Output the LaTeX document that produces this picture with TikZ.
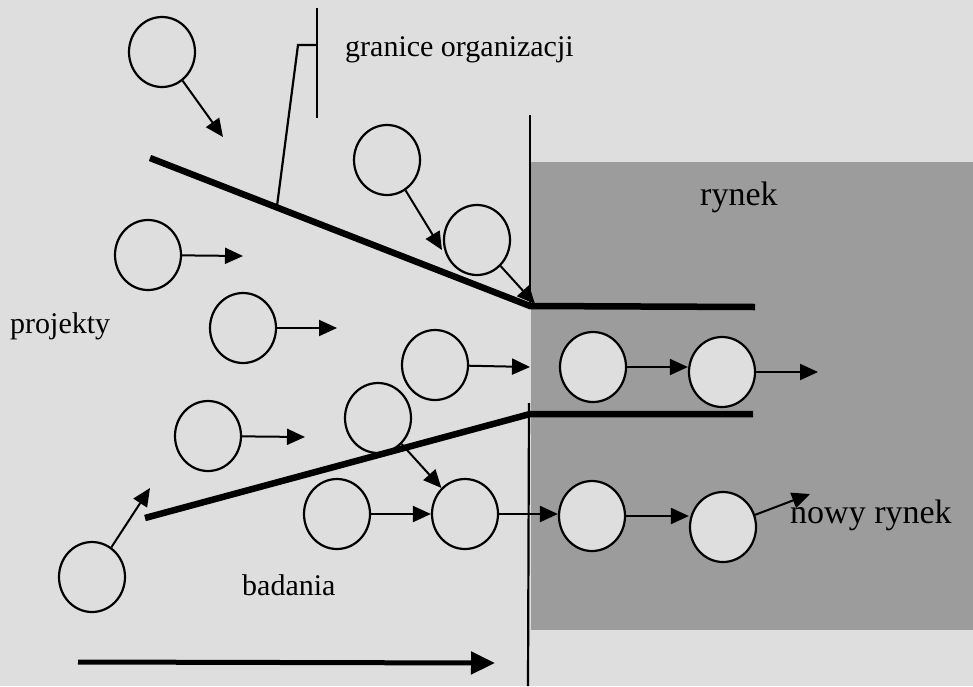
\documentclass[tikz,border=0pt]{standalone}
\usepackage{fontspec}
\setmainfont{Liberation Serif}
\usetikzlibrary{arrows.meta,shapes.geometric}
\definecolor{bgc}{HTML}{DEDEDE}
\definecolor{mkt}{HTML}{9C9C9C}
\begin{document}
\begin{tikzpicture}[x=1pt,y=-1pt,
  bub/.style={ellipse,draw=black,line width=2.2pt,fill=bgc,minimum width=66pt,minimum height=70pt,inner sep=0pt},
  arr/.style={line width=2pt,-{Triangle[length=18pt,width=16pt]}},
  wall/.style={line width=6.5pt},
  thinline/.style={line width=2.2pt},
  lbl/.style={font=\fontsize{30}{36}\selectfont,inner sep=0pt,anchor=base west},
  biglbl/.style={font=\fontsize{34}{40}\selectfont,inner sep=0pt,anchor=base west}]
\useasboundingbox (0,0) rectangle (973,686);
\fill[bgc] (0,0) rectangle (973,686);
\fill[mkt] (531,162) rectangle (973,630);

% wall coordinates
\coordinate (wt0) at (150,158);
\coordinate (wj) at (530,306);
\coordinate (wt1) at (755,307);
\coordinate (wb0) at (145,518);
\coordinate (wbj) at (530,414);
\coordinate (wb1) at (753,414);
\coordinate (vt) at (530,115);
\coordinate (vb0) at (529,403);
\coordinate (vb1) at (528,686);
\coordinate (bk0) at (317,8);
\coordinate (bk1) at (317,118);
\coordinate (bk2) at (317,45);
\coordinate (bk3) at (298,45);
\coordinate (bk4) at (277,206);

% bubbles
\node[bub] (c1) at (162,52) {};
\node[bub] (c2) at (148,255) {};
\node[bub] (c3) at (243,328) {};
\node[bub] (c4) at (387,160) {};
\node[bub] (c5) at (477,240) {};
\node[bub] (c6) at (435,365) {};
\node[bub] (c7) at (593,367) {};
\node[bub] (c8) at (722,372) {};
\node[bub] (c9) at (208,436) {};
\node[bub] (c10) at (378,418) {};
\node[bub] (c11) at (337,514) {};
\node[bub] (c12) at (465,514) {};
\node[bub] (c13) at (592,516) {};
\node[bub] (c14) at (723,527) {};
\node[bub] (c15) at (92,577) {};

% walls and boundaries
\draw[wall] (wt0) -- (wj) -- (wt1);
\draw[wall] (wb0) -- (wbj) -- (wb1);
\draw[thinline] (vt) -- (wj);
\draw[thinline] (vb0) -- (vb1);
\draw[thinline] (bk0) -- (bk1);
\draw[thinline] (bk2) -- (bk3) -- (bk4);

% free arrow ends
\coordinate (t1) at (223,137);
\coordinate (t2) at (243,256);
\coordinate (t3) at (337,328);
\coordinate (t4) at (442,250);
\coordinate (t5) at (535,304);
\coordinate (t6) at (530,367);
\coordinate (t8) at (818,372);
\coordinate (t9) at (305,437);
\coordinate (t14) at (810,494);
\coordinate (t15) at (150,488);
\coordinate (ba0) at (78,662);
\coordinate (ba1) at (495,663);

\draw[arr] (c1) -- (t1);
\draw[arr] (c2) -- (t2);
\draw[arr] (c3) -- (t3);
\draw[arr] (c4) -- (t4);
\draw[arr] (c5) -- (t5);
\draw[arr] (c6) -- (t6);
\draw[arr] (c7.east) -- (c7.east -| c8.west);
\draw[arr] (c8) -- (t8);
\draw[arr] (c9) -- (t9);
\draw[arr] (c10) -- (c12);
\draw[arr] (c11) -- (c12);
\draw[arr] (c12.east) -- (c12.east -| c13.west);
\draw[arr] (c13.east) -- (c13.east -| c14.west);
\draw[arr] (c14) -- (t14);
\draw[arr] (c15) -- (t15);
\draw[line width=5pt,-{Triangle[length=24pt,width=22pt]}] (ba0) -- (ba1);

% labels
\node[lbl] (lorg) at (345,56) {granice organizacji};
\node[lbl] (lproj) at (10,333) {projekty};
\node[lbl] (lbad) at (242,595) {badania};
\node[biglbl] (lryn) at (700,205) {rynek};
\node[biglbl] (lnew) at (790,523) {nowy rynek};
\end{tikzpicture}
\end{document}
